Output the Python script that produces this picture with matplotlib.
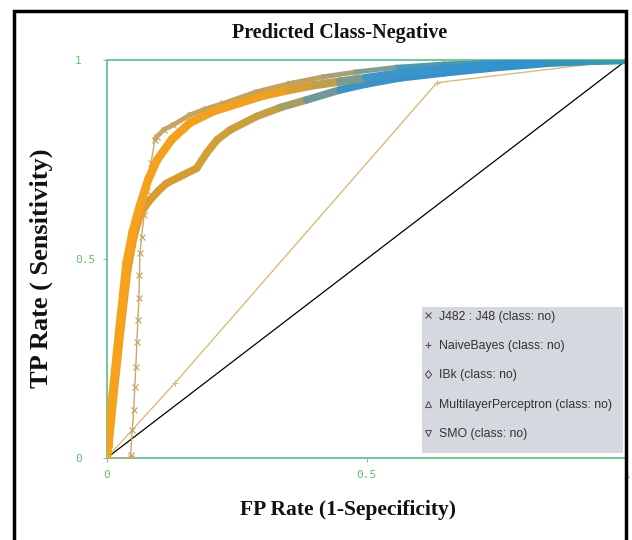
import numpy as np
import matplotlib
matplotlib.use("Agg")
import matplotlib.pyplot as plt
from matplotlib.collections import LineCollection
from matplotlib.colors import LinearSegmentedColormap
from matplotlib.lines import Line2D
from matplotlib.patches import Rectangle

# ROC points
j48_fpr = [0.0, 0.046, 0.046, 0.049, 0.052, 0.054, 0.056, 0.058, 0.060, 0.062, 0.063, 0.064,
           0.067, 0.072, 0.078, 0.085, 0.093, 0.096, 0.11, 0.128, 0.16, 0.19, 0.224, 0.288,
           0.352, 0.417, 0.48, 0.56, 0.65, 0.75, 0.85, 0.93, 1.0]
j48_tpr = [0.0, 0.0, 0.008, 0.070, 0.121, 0.179, 0.229, 0.292, 0.347, 0.401, 0.46, 0.514,
           0.556, 0.61, 0.67, 0.74, 0.80, 0.807, 0.825, 0.837, 0.862, 0.877, 0.891, 0.92,
           0.941, 0.958, 0.97, 0.982, 0.99, 0.995, 0.998, 0.999, 1.0]

mlp_fpr = [0.0, 0.003, 0.011, 0.024, 0.038, 0.050, 0.064, 0.080, 0.097, 0.125, 0.160, 0.205,
           0.256, 0.30, 0.352, 0.40, 0.449, 0.50, 0.56, 0.65, 0.75, 0.85, 0.93, 1.0]
mlp_tpr = [0.0, 0.03, 0.155, 0.32, 0.49, 0.57, 0.635, 0.70, 0.749, 0.80, 0.842, 0.871,
           0.892, 0.91, 0.925, 0.937, 0.946, 0.955, 0.966, 0.978, 0.988, 0.995, 0.998, 1.0]

nb_fpr = [0.0, 0.004, 0.013, 0.026, 0.040, 0.052, 0.065, 0.083, 0.100, 0.115, 0.147, 0.173,
          0.192, 0.212, 0.237, 0.288, 0.335, 0.385, 0.449, 0.50, 0.564, 0.65, 0.757, 0.85,
          0.93, 1.0]
nb_tpr = [0.0, 0.03, 0.15, 0.31, 0.47, 0.555, 0.615, 0.648, 0.672, 0.690, 0.711, 0.728,
          0.766, 0.799, 0.824, 0.858, 0.881, 0.90, 0.925, 0.94, 0.955, 0.968, 0.982, 0.992,
          0.997, 1.0]

ibk_fpr = [0.0, 0.131, 0.635, 1.0]
ibk_tpr = [0.0, 0.188, 0.943, 1.0]

legend_labels = ["J482 : J48 (class: no)", "NaiveBayes (class: no)", "IBk (class: no)",
                 "MultilayerPerceptron (class: no)", "SMO (class: no)"]
legend_markers = ["x", "+", "d", "^", "v"]
ticks = [0, 0.5, 1]
tick_labels = ["0", "0.5", "1"]

W, H = 632, 540
fig = plt.figure(figsize=(W / 100, H / 100), dpi=100)
ax = fig.add_axes([106.7 / W, 1 - 458 / H, 520 / W, 398 / H])


def gradient_line(x, y, stops, lw, z):
    cmap = LinearSegmentedColormap.from_list("g", stops)
    x = np.asarray(x)
    y = np.asarray(y)
    pts = np.column_stack([x, y]).reshape(-1, 1, 2)
    segs = np.concatenate([pts[:-1], pts[1:]], axis=1)
    mid = (x[:-1] + x[1:]) / 2
    lc = LineCollection(segs, colors=cmap(mid), linewidths=lw, capstyle="round",
                        joinstyle="round", zorder=z)
    ax.add_collection(lc)


# reference diagonal and the thin curve
ax.plot([0, 1], [0, 1], color="black", lw=0.9, zorder=2)
ax.plot(ibk_fpr, ibk_tpr, color="#d9bb80", lw=1.0, marker="+", ms=5, mew=0.8, zorder=3)

# J48: thin stepped start with x markers, thicker noisy band above
ax.plot(j48_fpr, j48_tpr, color="#c9a86a", lw=1.0, marker="x", ms=4, mew=0.9, zorder=4)
k = j48_fpr.index(0.093)
gradient_line(j48_fpr[k:], j48_tpr[k:],
              [(0, "#c8a868"), (0.4, "#bfa060"), (0.5, "#8f9e8a"), (0.6, "#4e9ab5"),
               (1, "#3a9a9a")], 3.5, 4)

gradient_line(nb_fpr, nb_tpr,
              [(0, "#f2a01e"), (0.08, "#dc9c2c"), (0.3, "#c9a040"), (0.38, "#9a9c70"),
               (0.46, "#3e92c6"), (0.85, "#2f90c8"), (1, "#3a9a9a")], 5.5, 5)
gradient_line(mlp_fpr, mlp_tpr,
              [(0, "#f7a21b"), (0.33, "#eea020"), (0.42, "#c0a048"), (0.52, "#3f96c8"),
               (0.8, "#2f93d0"), (1, "#3a9aa0")], 6, 6)

ax.set_xlim(0, 1)
ax.set_ylim(0, 1)
green = "#7cc49a"
for s in ax.spines.values():
    s.set_color(green)
    s.set_linewidth(1.5)
ax.set_xticks(ticks)
ax.set_xticklabels(tick_labels)
ax.set_yticks(ticks)
ax.set_yticklabels(tick_labels, ha="left")
ax.tick_params(axis="x", length=3, color=green, labelcolor="#66bb6a", labelsize=8, pad=5.5)
ax.tick_params(axis="y", length=3, color=green, labelcolor="#66bb6a", labelsize=8, pad=20)
for lab in ax.get_xticklabels() + ax.get_yticklabels():
    lab.set_family("DejaVu Sans Mono")

# legend panel
ax.add_patch(Rectangle((0.606, 0.0126), 0.387, 0.367, transform=ax.transAxes,
                       facecolor="#d5d8de", edgecolor="none", zorder=9))
handles = [Line2D([], [], ls="none", marker=m, ms=4.5, mew=0.8, color="#555555",
                  markerfacecolor="none") for m in legend_markers]
leg = ax.legend(handles, legend_labels, loc="upper left",
                bbox_to_anchor=(0.61, 0.37), frameon=False,
                prop={"family": "Liberation Sans", "size": 8.8}, labelcolor="#333333",
                handlelength=0.7, handletextpad=0.5, labelspacing=1.42, borderpad=0,
                borderaxespad=0)
leg.set_zorder(10)

serif = {"family": "Liberation Serif", "weight": "bold", "color": "#111111"}
fig.text(340 / W, 1 - 33 / H, "Predicted Class-Negative", ha="center", va="center",
         fontsize=14.5, **serif)
fig.text(348 / W, 1 - 510 / H, "FP Rate (1-Sepecificity)", ha="center", va="center",
         fontsize=15.5, **serif)
fig.text(41 / W, 1 - 268 / H, "TP Rate ( Sensitivity)", ha="center", va="center",
         rotation=90, fontsize=19, **serif)

# black outer frame (bottom edge falls outside the picture)
fig.add_artist(Rectangle((14 / W, -0.05), (626 - 14) / W, 1 - 11 / H + 0.05,
                         transform=fig.transFigure, fill=False, lw=2.5, ec="black"))

fig.savefig("out.png", dpi=100)
